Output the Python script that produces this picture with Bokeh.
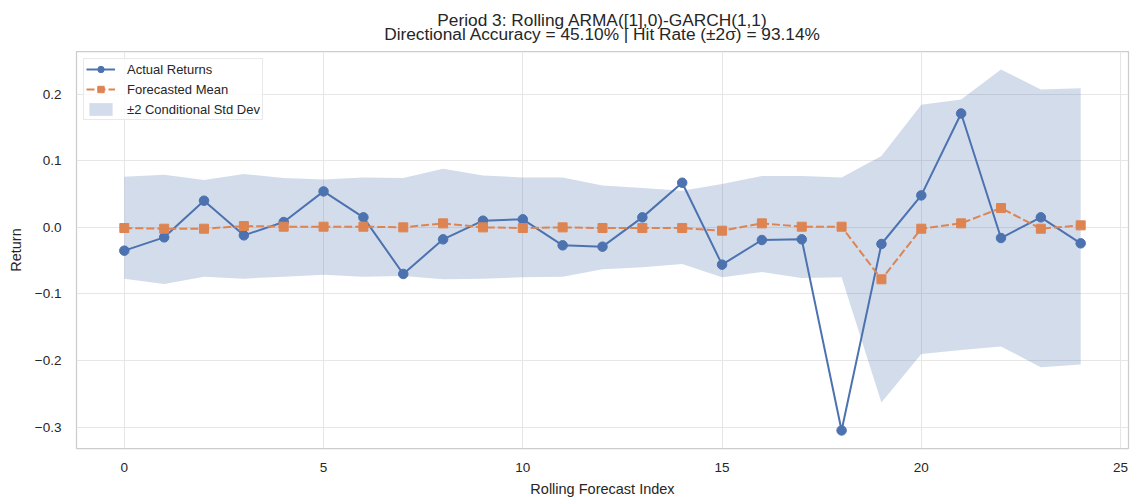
from bokeh.plotting import figure
from bokeh.models import Range1d, FixedTicker, Legend, LegendItem, Title, ColumnDataSource
from bokeh.embed import file_html
from bokeh.resources import INLINE

# ---- data ----
idx = list(range(25))
actual = [-0.035, -0.015, 0.040, -0.012, 0.008, 0.054, 0.015, -0.070, -0.018, 0.010,
          0.012, -0.027, -0.029, 0.015, 0.067, -0.056, -0.019, -0.018, -0.305, -0.025,
          0.048, 0.171, -0.016, 0.015, -0.024]
forecast = [-0.001, -0.002, -0.002, 0.002, 0.001, 0.001, 0.001, 0.000, 0.006, 0.000,
            -0.001, 0.000, -0.001, -0.001, -0.001, -0.005, 0.006, 0.001, 0.001, -0.078,
            -0.002, 0.006, 0.029, -0.002, 0.003]
upper = [0.076, 0.079, 0.071, 0.080, 0.074, 0.072, 0.075, 0.074, 0.088, 0.078,
         0.075, 0.075, 0.063, 0.059, 0.055, 0.065, 0.077, 0.077, 0.075, 0.107,
         0.184, 0.192, 0.237, 0.207, 0.209]
lower = [-0.077, -0.085, -0.074, -0.077, -0.074, -0.071, -0.074, -0.073, -0.078, -0.077,
         -0.075, -0.074, -0.063, -0.060, -0.055, -0.075, -0.067, -0.076, -0.075, -0.263,
         -0.190, -0.184, -0.179, -0.210, -0.206]

x_ticks = [0, 5, 10, 15, 20, 25]
y_ticks = [-0.3, -0.2, -0.1, 0.0, 0.1, 0.2]
y_tick_labels = ["\u22120.3", "\u22120.2", "\u22120.1", "0.0", "0.1", "0.2"]

title_line1 = "Period 3: Rolling ARMA([1],0)-GARCH(1,1)"
title_line2 = "Directional Accuracy = 45.10% | Hit Rate (\u00b12\u03c3) = 93.14%"
x_label = "Rolling Forecast Index"
y_label = "Return"

BLUE = "#4C72B0"
ORANGE = "#DD8452"
TEXT = "#262626"
FONT = "Liberation Sans"

src = ColumnDataSource(dict(x=idx, actual=actual, forecast=forecast, upper=upper, lower=lower))

# ranges with 5% margins like matplotlib
xmn, xmx = min(idx), max(idx)
xpad = 0.05 * (xmx - xmn)
ymn = min(min(actual), min(lower))
ymx = max(max(actual), max(upper))
ypad = 0.05 * (ymx - ymn)

p = figure(width=1133, height=504, output_backend="svg", toolbar_location=None,
           title=None,
           x_range=Range1d(xmn - xpad, xmx + xpad), y_range=Range1d(ymn - ypad, ymx + ypad),
           min_border_left=76, min_border_right=5, min_border_top=49, min_border_bottom=56,
           background_fill_color="white", border_fill_color="white")

band = p.varea(x="x", y1="lower", y2="upper", source=src, fill_color=BLUE, fill_alpha=0.25)
l1 = p.line("x", "actual", source=src, line_color=BLUE, line_width=2)
s1 = p.scatter("x", "actual", source=src, marker="circle", size=9.5, fill_color=BLUE, line_color=BLUE)
l2 = p.line("x", "forecast", source=src, line_color=ORANGE, line_width=2, line_dash="8 3")
s2 = p.scatter("x", "forecast", source=src, marker="square", size=9, fill_color=ORANGE, line_color=ORANGE)

title = Title(text=title_line1 + "\n" + title_line2, align="center", text_align="center",
              text_font=FONT, text_font_size="17.3px", text_font_style="normal",
              text_color=TEXT, text_line_height=0.74, standoff=14)
p.add_layout(title, "above")

p.xaxis.ticker = FixedTicker(ticks=x_ticks)
p.yaxis.ticker = FixedTicker(ticks=y_ticks)
p.yaxis.major_label_overrides = dict(zip(y_ticks, y_tick_labels))
p.xaxis.axis_label = x_label
p.yaxis.axis_label = y_label

for ax in (p.xaxis[0], p.yaxis[0]):
    ax.axis_line_color = None
    ax.major_tick_line_color = None
    ax.minor_tick_line_color = None
    ax.major_tick_out = 0
    ax.major_tick_in = 0
    ax.minor_tick_out = 0
    ax.minor_tick_in = 0
    ax.major_label_text_font = FONT
    ax.major_label_text_font_size = "13.5px"
    ax.major_label_text_color = TEXT
    ax.axis_label_text_font = FONT
    ax.axis_label_text_font_size = "14.5px"
    ax.axis_label_text_font_style = "normal"
    ax.axis_label_text_color = TEXT

p.xaxis.major_label_standoff = 14
p.xaxis.axis_label_standoff = 6
p.yaxis.major_label_standoff = 15
p.yaxis.axis_label_standoff = 8

p.grid.grid_line_color = "#e6e6e6"
p.grid.grid_line_width = 1
p.outline_line_color = "#cccccc"
p.outline_line_width = 1.25

legend = Legend(items=[
    LegendItem(label="Actual Returns", renderers=[l1, s1]),
    LegendItem(label="Forecasted Mean", renderers=[l2, s2]),
    LegendItem(label="\u00b12 Conditional Std Dev", renderers=[band]),
], location="top_left")
legend.margin = 7
legend.padding = 2
legend.spacing = 4
legend.glyph_width = 29
legend.glyph_height = 16
legend.label_height = 16
legend.label_standoff = 12
legend.label_text_font = FONT
legend.label_text_font_size = "13px"
legend.label_text_color = TEXT
legend.border_line_color = "#d4d4d4"
legend.border_line_width = 1
legend.background_fill_color = "white"
legend.background_fill_alpha = 0.8
p.add_layout(legend)

open("out.html", "w").write(file_html(p, INLINE))
